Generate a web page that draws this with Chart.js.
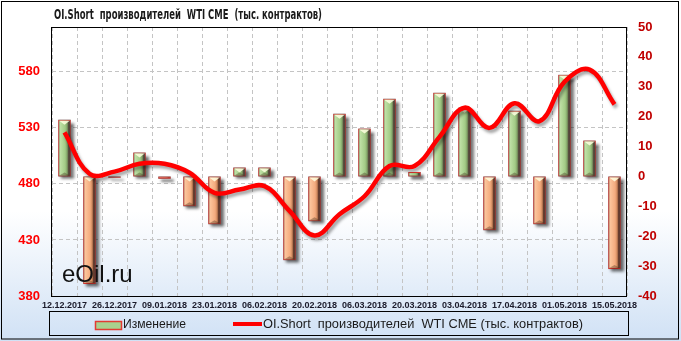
<!DOCTYPE html>
<html lang="ru">
<head>
    <meta charset="UTF-8">
    <title>OI.Short производителей WTI CME</title>
    <script src="https://cdn.jsdelivr.net/npm/chart.js"></script>
    <style>
        body { margin: 0; background: #fff; }
        canvas { display: block; }
    </style>
</head>
<body>

    <canvas id="chartCanvas" width="681" height="341"></canvas>

    <script>
        // недели
        const datas = ['12.12.2017', '19.12.2017', '26.12.2017', '02.01.2018', '09.01.2018', '16.01.2018',
            '23.01.2018', '30.01.2018', '06.02.2018', '13.02.2018', '20.02.2018', '27.02.2018',
            '06.03.2018', '13.03.2018', '20.03.2018', '27.03.2018', '03.04.2018', '10.04.2018',
            '17.04.2018', '24.04.2018', '01.05.2018', '08.05.2018', '15.05.2018'];

        // изменение за неделю (правая ось)
        const mudanca = [19, -36, -0.4, 8, -0.8, -10, -16, 3, 3, -28, -15, 21,
            16, 26, 1.5, 28, 23, -18, 22, -16, 34, 12, -31];

        // OI.Short (левая ось)
        const oiShort = [526, 489, 491, 498, 498, 490, 472, 475, 478, 456, 434, 453,
            469, 496, 496, 522, 548, 530, 552, 536, 571, 582, 551];

        const ticksEsq = [380, 430, 480, 530, 580];
        const ticksDir = [-40, -30, -20, -10, 0, 10, 20, 30, 40, 50];

        const titulo = 'OI.Short  производителей  WTI CME  (тыс. контрактов)';
        const legendaBarra = 'Изменение';
        const legendaLinha = 'OI.Short  производителей  WTI CME (тыс. контрактов)';

        function corBarra(c) {
            const chart = c.chart;
            const xs = chart.scales.x;
            const pos = c.raw >= 0;
            const liso = pos ? '#b0d598' : '#f7b283';
            if (!xs || c.type !== 'data') return liso;
            const cx = xs.getPixelForValue(c.dataIndex);
            const w = xs.width / datas.length * 0.5;
            if (!isFinite(cx) || !isFinite(w) || w <= 0) return liso;
            const g = chart.ctx.createLinearGradient(cx - w / 2, 0, cx + w / 2, 0);
            if (pos) {
                g.addColorStop(0, '#8fba73');
                g.addColorStop(0.15, '#bfe1a6');
                g.addColorStop(0.55, '#a3cb86');
                g.addColorStop(0.72, '#7fa166');
                g.addColorStop(0.8, '#5a5240');
                g.addColorStop(1, '#45362c');
            } else {
                g.addColorStop(0, '#e89d70');
                g.addColorStop(0.15, '#fcc59c');
                g.addColorStop(0.55, '#f4ab7e');
                g.addColorStop(0.72, '#cb865b');
                g.addColorStop(0.8, '#6a3e2e');
                g.addColorStop(1, '#563226');
            }
            return g;
        }

        // sombra: a barra do Chart.js faz clip, então a sombra é desenhada antes
        const sombra = {
            id: 'sombra',
            beforeDatasetDraw(chart, args) {
                const ctx = chart.ctx;
                if (args.meta.type === 'bar') {
                    ctx.save();
                    ctx.shadowColor = 'rgba(0,0,0,0.6)';
                    ctx.shadowOffsetX = 3;
                    ctx.shadowOffsetY = 3;
                    ctx.shadowBlur = 3;
                    ctx.fillStyle = '#777';
                    args.meta.data.forEach(el => {
                        const topo = Math.min(el.y, el.base);
                        const h = Math.abs(el.base - el.y);
                        ctx.fillRect(el.x - el.width / 2, topo, el.width, Math.max(h, 1));
                    });
                    ctx.restore();
                }
                ctx.save();
                ctx.shadowColor = 'rgba(0,0,0,0.35)';
                ctx.shadowOffsetX = 2;
                ctx.shadowOffsetY = 3;
                ctx.shadowBlur = 3;
            },
            afterDatasetDraw(chart) {
                chart.ctx.restore();
            }
        };

        function textoLargura(ctx, txt, x, y, largura) {
            const w = ctx.measureText(txt).width;
            ctx.save();
            ctx.translate(x, y);
            ctx.scale(largura / w, 1);
            ctx.fillText(txt, 0, 0);
            ctx.restore();
        }

        const enfeites = {
            id: 'enfeites',
            beforeDraw(chart) {
                const ctx = chart.ctx;
                const g = ctx.createLinearGradient(0, 0, 0, chart.height);
                g.addColorStop(0, '#ffffff');
                g.addColorStop(0.62, '#ffffff');
                g.addColorStop(1, '#d0e1f5');
                ctx.save();
                ctx.fillStyle = g;
                ctx.fillRect(0, 0, chart.width, chart.height);
                ctx.restore();
            },
            afterDatasetDraw(chart, args) {
                if (args.meta.type !== 'bar') return;
                const ctx = chart.ctx;
                ctx.save();
                args.meta.data.forEach(el => {
                    const topo = Math.min(el.y, el.base);
                    const fundo = Math.max(el.y, el.base);
                    const h = fundo - topo;
                    if (h < 8) return;
                    const l = el.x - el.width / 2 + 1;
                    const r = el.x + el.width / 2 - 1;
                    ctx.fillStyle = 'rgba(255,255,225,0.85)';
                    ctx.beginPath();
                    ctx.moveTo(l, topo + 1);
                    ctx.lineTo(r, topo + 1);
                    ctx.lineTo(el.x, topo + 5);
                    ctx.closePath();
                    ctx.fill();
                    ctx.fillStyle = 'rgba(60,40,20,0.35)';
                    ctx.beginPath();
                    ctx.moveTo(l, fundo - 1);
                    ctx.lineTo(r, fundo - 1);
                    ctx.lineTo(el.x, fundo - 4);
                    ctx.closePath();
                    ctx.fill();
                });
                ctx.restore();
            },
            afterDatasetsDraw(chart) {
                const ctx = chart.ctx;
                ctx.save();
                ctx.fillStyle = '#111';
                ctx.font = '24px "Liberation Sans", Arial, sans-serif';
                ctx.textBaseline = 'alphabetic';
                ctx.fillText('eOil.ru', 62, 282);
                ctx.restore();
            },
            afterDraw(chart) {
                const ctx = chart.ctx;
                const a = chart.chartArea;
                ctx.save();
                ctx.strokeStyle = '#000';
                ctx.lineWidth = 1;
                ctx.strokeRect(a.left - 0.5, a.top + 0.5, a.right - a.left, a.bottom - a.top);
                ctx.strokeRect(1.5, 1.5, 677, 337.5);

                // título
                ctx.fillStyle = '#1a1a1a';
                ctx.font = 'bold 14px "DejaVu Sans", sans-serif';
                ctx.textBaseline = 'alphabetic';
                textoLargura(ctx, titulo, 54, 18.5, 268);

                // legenda
                ctx.strokeRect(49.5, 311.5, 579, 24);
                ctx.fillStyle = '#a9d18e';
                ctx.fillRect(95.5, 321.5, 26, 8);
                ctx.strokeStyle = '#e23b33';
                ctx.lineWidth = 1.5;
                ctx.strokeRect(95.5, 321.5, 26, 8);
                ctx.strokeStyle = '#ff0000';
                ctx.lineWidth = 4;
                ctx.beginPath();
                ctx.moveTo(233, 324);
                ctx.lineTo(262, 324);
                ctx.stroke();
                ctx.fillStyle = '#1a1a1a';
                ctx.font = '12px "Liberation Sans", Arial, sans-serif';
                ctx.textBaseline = 'middle';
                textoLargura(ctx, legendaBarra, 123, 325, 63);
                textoLargura(ctx, legendaLinha, 263, 325, 320);
                ctx.restore();
            }
        };

        const ctx = document.getElementById('chartCanvas').getContext('2d');

        window.myChart = new Chart(ctx, {
            data: {
                labels: datas,
                datasets: [{
                    type: 'line',
                    label: legendaLinha,
                    data: oiShort,
                    yAxisID: 'y',
                    borderColor: '#ff0000',
                    borderWidth: 4.5,
                    pointRadius: 0,
                    tension: 0.4,
                    order: 0
                }, {
                    type: 'bar',
                    label: legendaBarra,
                    data: mudanca,
                    yAxisID: 'y1',
                    backgroundColor: corBarra,
                    borderColor: '#e8362f',
                    borderWidth: 1,
                    borderSkipped: false,
                    categoryPercentage: 1,
                    barPercentage: 0.5,
                    order: 1
                }]
            },
            options: {
                responsive: false,
                animation: false,
                layout: { padding: { top: 27, bottom: 31, left: 0, right: 0 } },
                plugins: {
                    legend: { display: false },
                    title: { display: false },
                    tooltip: { enabled: false }
                },
                scales: {
                    x: {
                        offset: true,
                        grid: { offset: true, color: '#c4c4c4', drawTicks: false },
                        border: { display: false, dash: [4, 3] },
                        ticks: {
                            autoSkip: false,
                            maxRotation: 0,
                            padding: 4,
                            color: '#1a1a2a',
                            font: { family: '"Liberation Sans", Arial, sans-serif', size: 9, weight: 'bold' },
                            callback: (v, i) => i % 2 === 0 ? datas[i] : ''
                        },
                        afterFit: s => { s.height = 14; }
                    },
                    y: {
                        position: 'left',
                        min: 380,
                        max: 620,
                        afterBuildTicks: s => { s.ticks = ticksEsq.map(v => ({ value: v })); },
                        grid: { color: '#c4c4c4', drawTicks: false },
                        border: { display: false, dash: [4, 3] },
                        ticks: {
                            padding: 12,
                            color: '#ff0000',
                            font: { family: '"Liberation Sans", Arial, sans-serif', size: 13, weight: 'bold' }
                        },
                        afterFit: s => { s.width = 52; }
                    },
                    y1: {
                        position: 'right',
                        min: -40,
                        max: 50,
                        afterBuildTicks: s => { s.ticks = ticksDir.map(v => ({ value: v })); },
                        grid: { display: false, drawTicks: false },
                        border: { display: false },
                        ticks: {
                            padding: 11,
                            color: '#c00000',
                            font: { family: '"Liberation Sans", Arial, sans-serif', size: 13, weight: 'bold' }
                        },
                        afterFit: s => { s.width = 54; }
                    }
                }
            },
            plugins: [sombra, enfeites]
        });
    </script>

</body>
</html>
